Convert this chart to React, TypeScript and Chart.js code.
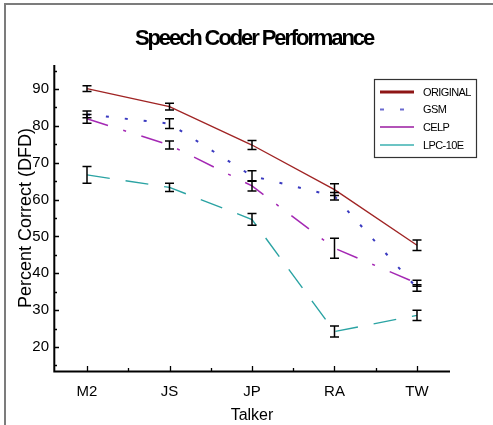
import React, { useEffect, useRef } from 'react';
import { Chart, registerables } from 'chart.js';

Chart.register(...registerables);

// ---- data ----
const talkers = ['M2', 'JS', 'JP', 'RA', 'TW'];
const seriesNames = ['ORIGINAL', 'GSM', 'CELP', 'LPC-10E'];
const original = [90.1, 85.2, 74.8, 62.7, 47.6];
const originalErr = [0.8, 0.9, 1.2, 1.6, 1.4];
const gsm = [83.1, 80.6, 66.4, 60.9, 36.0];
const gsmErr = [0.9, 1.3, 1.4, 1.0, 0.9];
const celp = [81.9, 74.8, 63.7, 46.8, 37.3];
const celpErr = [1.2, 1.1, 1.4, 2.7, 0.8];
const lpc10e = [66.7, 63.3, 54.6, 24.2, 28.6];
const lpc10eErr = [2.3, 1.1, 1.6, 1.5, 1.4];
const yTicks = [20, 30, 40, 50, 60, 70, 80, 90];
const yMinorTicks = [15, 25, 35, 45, 55, 65, 75, 85, 95];
const xMinorTicks = [0.5, 1.5, 2.5, 3.5];

const chartTitle = 'Speech Coder Performance';
const xTitle = 'Talker';
const yTitle = 'Percent Correct (DFD)';

const FONT = '"Liberation Sans", Arial, Helvetica, sans-serif';

const seriesValues = [original, gsm, celp, lpc10e];
const seriesErrs = [originalErr, gsmErr, celpErr, lpc10eErr];
const seriesColors = ['#a02424', '#3a3ac0', '#a428b4', '#2aa3a3'];
const seriesWidths = [1.4, 2, 1.5, 1.4];
const seriesDash: number[][] = [[], [3, 16], [22, 16, 3, 16], [23, 16]];

const legendColors = ['#8e1616', '#6a6ad0', '#9a1aa0', '#6cc4c4'];
const legendWidths = [3, 2, 1.5, 2.2];
const legendDash: number[][] = [[], [4, 16], [], []];

const decorPlugin = {
  id: 'decor',
  beforeDraw(chart: any) {
    const { ctx } = chart;
    ctx.save();
    ctx.fillStyle = '#ffffff';
    ctx.fillRect(0, 0, chart.width, chart.height);
    // frame (left and top)
    ctx.strokeStyle = '#7c7c7c';
    ctx.lineWidth = 2;
    ctx.beginPath();
    ctx.moveTo(5, chart.height);
    ctx.lineTo(5, 4);
    ctx.lineTo(chart.width, 4);
    ctx.stroke();
    ctx.restore();
  },
  afterDatasetsDraw(chart: any) {
    const { ctx } = chart;
    const x = chart.scales.x;
    const y = chart.scales.y;
    ctx.save();
    ctx.strokeStyle = '#000';
    ctx.lineWidth = 1.5;
    seriesValues.forEach((vals, di) => {
      vals.forEach((v, i) => {
        const px = x.getPixelForValue(i);
        const top = y.getPixelForValue(v + seriesErrs[di][i]);
        const bot = y.getPixelForValue(v - seriesErrs[di][i]);
        ctx.beginPath();
        ctx.moveTo(px, top);
        ctx.lineTo(px, bot);
        ctx.moveTo(px - 4.5, top);
        ctx.lineTo(px + 4.5, top);
        ctx.moveTo(px - 4.5, bot);
        ctx.lineTo(px + 4.5, bot);
        ctx.stroke();
      });
    });
    ctx.restore();
  },
  afterDraw(chart: any) {
    const { ctx, chartArea } = chart;
    const x = chart.scales.x;
    const y = chart.scales.y;
    ctx.save();
    // axes
    ctx.strokeStyle = '#000';
    ctx.lineWidth = 2;
    ctx.beginPath();
    ctx.moveTo(chartArea.left + 0.3, chartArea.top);
    ctx.lineTo(chartArea.left + 0.3, chartArea.bottom + 1.5);
    ctx.moveTo(chartArea.left - 0.7, chartArea.bottom + 0.5);
    ctx.lineTo(chartArea.right, chartArea.bottom + 0.5);
    ctx.stroke();
    // y ticks (inside)
    ctx.lineWidth = 1.3;
    ctx.beginPath();
    yTicks.forEach((t) => {
      const py = Math.round(y.getPixelForValue(t)) + 0.5;
      ctx.moveTo(chartArea.left, py);
      ctx.lineTo(chartArea.left + 5, py);
    });
    yMinorTicks.forEach((t) => {
      const py = Math.round(y.getPixelForValue(t)) + 0.5;
      ctx.moveTo(chartArea.left, py);
      ctx.lineTo(chartArea.left + 3, py);
    });
    talkers.forEach((_, i) => {
      const px = Math.round(x.getPixelForValue(i)) + 0.5;
      ctx.moveTo(px, chartArea.bottom);
      ctx.lineTo(px, chartArea.bottom - 5);
    });
    xMinorTicks.forEach((t) => {
      const px = Math.round(x.getPixelForValue(t)) + 0.5;
      ctx.moveTo(px, chartArea.bottom);
      ctx.lineTo(px, chartArea.bottom - 3);
    });
    ctx.stroke();

    // title
    ctx.fillStyle = '#000';
    ctx.font = `bold 22px ${FONT}`;
    (ctx as any).letterSpacing = '-2.1px';
    ctx.textAlign = 'center';
    ctx.textBaseline = 'alphabetic';
    ctx.fillText(chartTitle, 254, 45);

    // legend
    (ctx as any).letterSpacing = '-0.6px';
    ctx.strokeStyle = '#333';
    ctx.lineWidth = 1.2;
    ctx.strokeRect(374.5, 79.5, 102, 78);
    ctx.font = `11px ${FONT}`;
    ctx.textAlign = 'left';
    ctx.textBaseline = 'middle';
    const rows = [92, 109.5, 127, 145];
    seriesNames.forEach((name, i) => {
      ctx.save();
      ctx.strokeStyle = legendColors[i];
      ctx.lineWidth = legendWidths[i];
      ctx.setLineDash(legendDash[i]);
      ctx.beginPath();
      ctx.moveTo(380, rows[i]);
      ctx.lineTo(414, rows[i]);
      ctx.stroke();
      ctx.restore();
      ctx.fillStyle = '#000';
      ctx.fillText(name, 423, rows[i] + 0.5);
    });
    ctx.restore();
  },
};

export default function App() {
  const canvasRef = useRef<HTMLCanvasElement | null>(null);

  useEffect(() => {
    const canvas = canvasRef.current;
    if (!canvas) return;
    Chart.defaults.font.family = FONT;
    Chart.defaults.color = '#000';
    const chart = new Chart(canvas, {
      type: 'line',
      data: {
        datasets: seriesNames.map((name, si) => ({
          label: name,
          data: seriesValues[si].map((v, i) => ({ x: i, y: v })),
          borderColor: seriesColors[si],
          backgroundColor: seriesColors[si],
          borderWidth: seriesWidths[si],
          borderDash: seriesDash[si],
          pointRadius: 0,
          tension: 0,
          fill: false,
        })),
      },
      options: {
        responsive: false,
        animation: false,
        devicePixelRatio: 1,
        layout: { padding: { left: 0, top: 65, right: 43, bottom: 0 } },
        plugins: {
          legend: { display: false },
          title: { display: false },
          tooltip: { enabled: false },
        },
        scales: {
          x: {
            type: 'linear',
            min: -0.4,
            max: 4.4,
            grid: { display: false, drawTicks: false },
            border: { display: false },
            afterBuildTicks: (s: any) => {
              s.ticks = talkers.map((_, i) => ({ value: i }));
            },
            afterFit: (s: any) => {
              s.height = 54;
            },
            ticks: {
              padding: 12,
              maxRotation: 0,
              autoSkip: false,
              font: { size: 15, family: FONT },
              color: '#000',
              callback: (v: any) => talkers[Math.round(Number(v))] ?? '',
            },
            title: {
              display: true,
              text: xTitle,
              font: { size: 16, family: FONT },
              color: '#000',
              padding: { top: 0, bottom: 0 },
            },
          },
          y: {
            type: 'linear',
            min: 13.5,
            max: 96.5,
            grid: { display: false, drawTicks: false },
            border: { display: false },
            afterBuildTicks: (s: any) => {
              s.ticks = yTicks.map((v) => ({ value: v }));
            },
            afterFit: (s: any) => {
              s.width = 54;
            },
            ticks: {
              padding: 5,
              font: { size: 15, family: FONT },
              color: '#000',
              callback: (v: any) => String(v),
            },
            title: {
              display: true,
              text: yTitle,
              font: { size: 18, family: FONT },
              color: '#000',
              padding: { top: 15, bottom: 0 },
            },
          },
        },
      },
      plugins: [decorPlugin],
    } as any);
    return () => chart.destroy();
  }, []);

  return (
    <div style={{ position: 'fixed', left: 0, top: 0, width: 493, height: 425, background: '#fff' }}>
      <canvas ref={canvasRef} width={493} height={425} style={{ width: 493, height: 425, display: 'block' }} />
    </div>
  );
}
